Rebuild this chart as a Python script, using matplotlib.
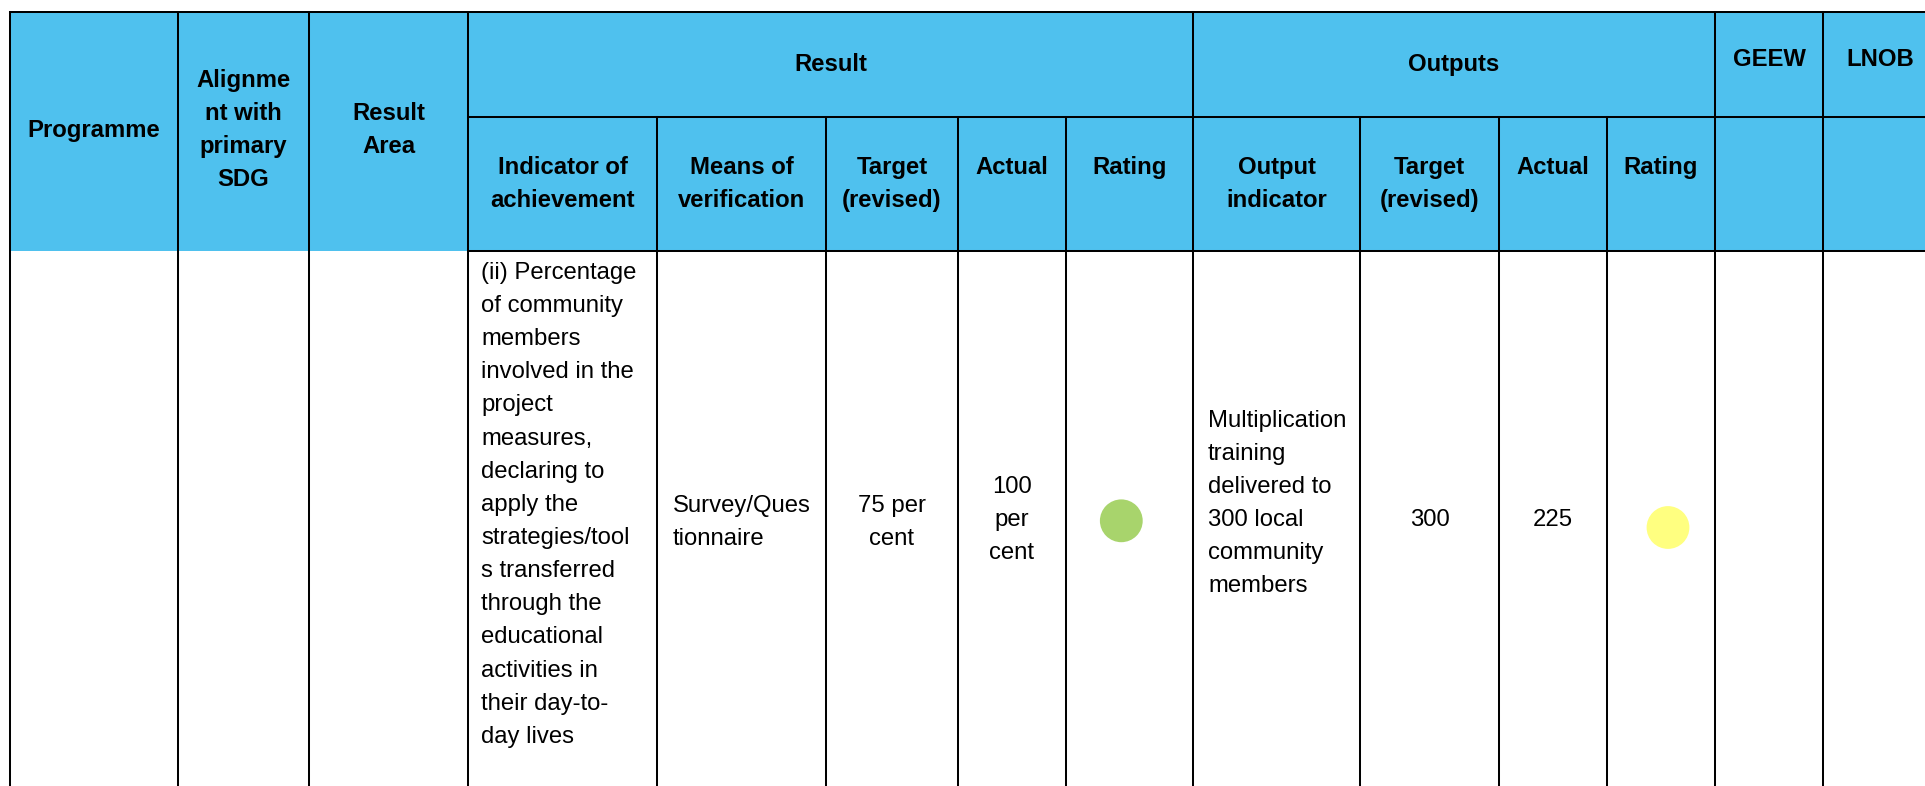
import matplotlib
matplotlib.use("Agg")
import matplotlib.pyplot as plt
from matplotlib.patches import Rectangle, Circle

# ---------------- data ----------------
top_headers = ["Programme", "Alignme\nnt with\nprimary\nSDG", "Result\nArea", "Result", "Outputs", "GEEW", "LNOB"]
sub_headers = ["Indicator of\nachievement", "Means of\nverification", "Target\n(revised)", "Actual", "Rating",
               "Output\nindicator", "Target\n(revised)", "Actual", "Rating"]
indicator_text = ("(ii) Percentage\nof community\nmembers\ninvolved in the\nproject\nmeasures,\ndeclaring to\n"
                  "apply the\nstrategies/tool\ns transferred\nthrough the\neducational\nactivities in\n"
                  "their day-to-\nday lives")
means_text = "Survey/Ques\ntionnaire"
result_target = "75 per\ncent"
result_actual = "100\nper\ncent"
result_rating = "#A8D46C"
output_indicator = "Multiplication\ntraining\ndelivered to\n300 local\ncommunity\nmembers"
output_target = "300"
output_actual = "225"
output_rating = "#FFFF80"

# ---------------- layout ----------------
W, H = 1925, 786
HEADER_BLUE = "#4FC1EE"
FS = 17.2
LS = 33.15  # px between lines
fig = plt.figure(figsize=(W / 100, H / 100), dpi=100)
ax = fig.add_axes([0, 0, 1, 1])
ax.set_xlim(0, W)
ax.set_ylim(H, 0)
ax.axis("off")

y_top, y_mid, y_hdr = 12, 117, 251
xs = [10, 178, 309, 468, 657, 826, 958, 1066, 1193, 1360, 1499, 1607, 1715, 1823, W + 5]

ax.add_patch(Rectangle((xs[0], y_top), W - xs[0] + 5, y_hdr - y_top, facecolor=HEADER_BLUE, edgecolor="none", zorder=0))


def block(text, x, yc, ha="center", bold=False):
    lines = text.split("\n")
    n = len(lines)
    for i, ln in enumerate(lines):
        yc_i = yc + (i - (n - 1) / 2) * LS
        ax.text(x, yc_i + 8.3, ln, ha=ha, va="baseline", fontsize=FS,
                fontweight="bold" if bold else "normal", family="Liberation Sans", color="black", zorder=3)


lw = 1.45
kw = dict(color="black", lw=lw, solid_capstyle="projecting", zorder=4)
# horizontal lines
ax.plot([xs[0], W], [y_top, y_top], **kw)
ax.plot([xs[3], W], [y_mid, y_mid], **kw)
ax.plot([xs[3], W], [y_hdr, y_hdr], **kw)
# vertical lines
full = [0, 1, 2, 3, 8, 12, 13]
for i in range(14):
    y0 = y_top if i in full else y_mid
    ax.plot([xs[i], xs[i]], [y0, H + 5], **kw)

# top headers
block(top_headers[0], (xs[0] + xs[1]) / 2, 129, bold=True)
block(top_headers[1], (xs[1] + xs[2]) / 2, 128.3, bold=True)
block(top_headers[2], (xs[2] + xs[3]) / 2, 128.3, bold=True)
block(top_headers[3], (xs[3] + xs[8]) / 2, 62.6, bold=True)
block(top_headers[4], (xs[8] + xs[12]) / 2, 62.6, bold=True)
block(top_headers[5], (xs[12] + xs[13]) / 2, 57.7, bold=True)
block(top_headers[6], 1880, 57.7, bold=True)

# sub headers
for j, t in enumerate(sub_headers):
    xc = (xs[3 + j] + xs[4 + j]) / 2
    n = len(t.split("\n"))
    yc = 182.3 if n == 2 else 165.7
    block(t, xc, yc, bold=True)

# body
block(indicator_text, xs[3] + 13, 502.5, ha="left")
block(means_text, xs[4] + 16, 520, ha="left")
block(result_target, (xs[5] + xs[6]) / 2, 520)
block(result_actual, (xs[6] + xs[7]) / 2, 518)
ax.add_patch(Circle((1121.3, 520.8), 21.4, facecolor=result_rating, edgecolor="none", zorder=3))
block(output_indicator, xs[8] + 15, 501.3, ha="left")
block(output_target, (xs[9] + xs[10]) / 2, 518)
block(output_actual, (xs[10] + xs[11]) / 2, 518)
ax.add_patch(Circle((1668, 527.5), 21.4, facecolor=output_rating, edgecolor="none", zorder=3))

fig.savefig("out.png", dpi=100, facecolor="white")
